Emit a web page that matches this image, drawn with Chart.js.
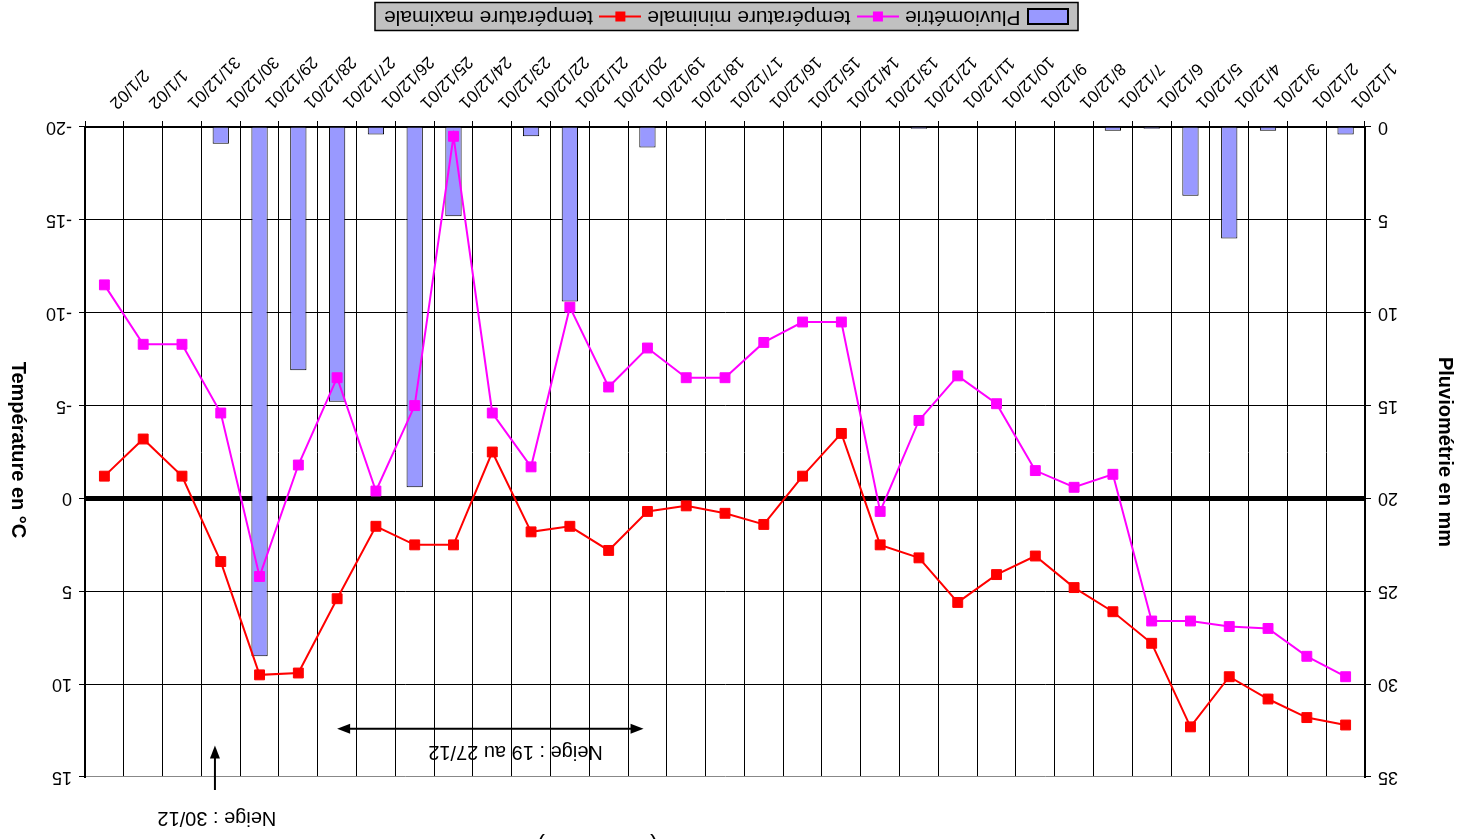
<!DOCTYPE html>
<html lang="fr">
<head>
<meta charset="utf-8">
<title>Températures et pluviométrie - décembre 2001</title>
<script src="https://cdn.jsdelivr.net/npm/chart.js@4.4.1/dist/chart.umd.min.js"></script>
<style>
  html, body { margin: 0; padding: 0; background: #fff; overflow: hidden; }
  /* le graphique d'origine est photographié à l'envers */
  #wrap { width: 1459px; height: 839px; position: relative; transform: rotate(180deg); }
</style>
</head>
<body>
<div id="wrap"><canvas id="meteoChart"></canvas></div>
<script>
// Données relevées jour par jour
const jours = ['1/12/01', '2/12/01', '3/12/01', '4/12/01', '5/12/01', '6/12/01', '7/12/01', '8/12/01',
  '9/12/01', '10/12/01', '11/12/01', '12/12/01', '13/12/01', '14/12/01', '15/12/01', '16/12/01',
  '17/12/01', '18/12/01', '19/12/01', '20/12/01', '21/12/01', '22/12/01', '23/12/01', '24/12/01',
  '25/12/01', '26/12/01', '27/12/01', '28/12/01', '29/12/01', '30/12/01', '31/12/01', '1/1/02', '2/1/02'];
const pluie = [0.4, 0, 0.2, 6.0, 3.7, 0.1, 0.2, 0, 0, 0, 0, 0.1, 0, 0, 0, 0,
  0, 0, 1.1, 0, 9.4, 0.5, 0, 4.8, 19.4, 0.4, 14.8, 13.1, 28.5, 0.9, 0, 0, 0];
const tempMin = [9.6, 8.5, 7.0, 6.9, 6.6, 6.6, -1.3, -0.6, -1.5, -5.1, -6.6, -4.2, 0.7, -9.5, -9.5, -8.4,
  -6.5, -6.5, -8.1, -6.0, -10.3, -1.7, -4.6, -19.5, -5.0, -0.4, -6.5, -1.8, 4.2, -4.6, -8.3, -8.3, -11.5];
const tempMax = [12.2, 11.8, 10.8, 9.6, 12.3, 7.8, 6.1, 4.8, 3.1, 4.1, 5.6, 3.2, 2.5, -3.5, -1.2, 1.4,
  0.8, 0.4, 0.7, 2.8, 1.5, 1.8, -2.5, 2.5, 2.5, 1.5, 5.4, 9.4, 9.5, 3.4, -1.2, -3.2, -1.2];
const pluieTicks = [0, 5, 10, 15, 20, 25, 30, 35];
const tempTicks = [-20, -15, -10, -5, 0, 5, 10, 15];

Chart.defaults.font.family = "'Liberation Sans', Arial, sans-serif";
Chart.defaults.color = '#000';

// Symboles de la légende
function symboleBarre() {
  const c = document.createElement('canvas');
  c.width = 42; c.height = 17;
  const g = c.getContext('2d');
  g.fillStyle = '#9999ff';
  g.fillRect(1, 1, 40, 15);
  g.strokeStyle = '#000';
  g.lineWidth = 2;
  g.strokeRect(1, 1, 40, 15);
  return c;
}

function symboleLigne(couleur) {
  const c = document.createElement('canvas');
  c.width = 42; c.height = 12;
  const g = c.getContext('2d');
  g.strokeStyle = couleur;
  g.lineWidth = 2;
  g.beginPath();
  g.moveTo(0, 6);
  g.lineTo(42, 6);
  g.stroke();
  g.fillStyle = couleur;
  g.fillRect(16, 1, 10, 10);
  return c;
}

const symboles = [symboleBarre(), symboleLigne('#ff00ff'), symboleLigne('#ff0000')];

function fleche(ctx, x1, y1, x2, y2) {
  const a = Math.atan2(y2 - y1, x2 - x1);
  const c = Math.cos(a), s = Math.sin(a);
  ctx.beginPath();
  ctx.moveTo(x2, y2);
  ctx.lineTo(x2 - 13 * c + 5 * s, y2 - 13 * s - 5 * c);
  ctx.lineTo(x2 - 13 * c - 5 * s, y2 - 13 * s + 5 * c);
  ctx.closePath();
  ctx.fill();
}

// Fond gris de la légende, annotations "Neige", titre de l'axe de droite
const decor = {
  id: 'decor',
  beforeDraw(chart) {
    const boxes = chart.legend.legendHitBoxes;
    if (!boxes || !boxes.length) return;
    const first = boxes[0], last = boxes[boxes.length - 1];
    const x0 = first.left - 13;
    const x1 = last.left + last.width + 9;
    const yc = first.top + first.height / 2;
    const ctx = chart.ctx;
    ctx.save();
    ctx.fillStyle = '#c0c0c0';
    ctx.fillRect(x0, yc - 14, x1 - x0, 28);
    ctx.strokeStyle = '#000';
    ctx.lineWidth = 1.5;
    ctx.strokeRect(x0, yc - 14, x1 - x0, 28);
    ctx.restore();
  },
  afterDraw(chart) {
    const ctx = chart.ctx;
    const x = chart.scales.x;
    const t = chart.scales.yTemp;
    const area = chart.chartArea;
    ctx.save();
    ctx.strokeStyle = '#000';
    ctx.fillStyle = '#000';
    ctx.lineWidth = 2;

    // Neige du 19 au 27/12
    const xa = x.getPixelForValue(18.1);
    const xb = x.getPixelForValue(26);
    const ya = t.getPixelForValue(12.4);
    ctx.beginPath();
    ctx.moveTo(xa + 8, ya);
    ctx.lineTo(xb - 8, ya);
    ctx.stroke();
    fleche(ctx, xb, ya, xa, ya);
    fleche(ctx, xa, ya, xb, ya);
    ctx.font = "20px 'Liberation Sans', Arial, sans-serif";
    ctx.textAlign = 'center';
    ctx.textBaseline = 'middle';
    ctx.fillText('Neige : 19 au 27/12', x.getPixelForValue(21.4), t.getPixelForValue(13.65));

    // Neige le 30/12
    const xn = x.getPixelForValue(29.15);
    const yTop = area.top - 13;
    const yBas = t.getPixelForValue(13.3);
    ctx.beginPath();
    ctx.moveTo(xn, yTop);
    ctx.lineTo(xn, yBas - 8);
    ctx.stroke();
    fleche(ctx, xn, yTop, xn, yBas);
    ctx.fillText('Neige : 30/12', x.getPixelForValue(29.1), area.top - 41);

    // Titre de l'axe des températures
    ctx.font = "bold 20px 'Liberation Sans', Arial, sans-serif";
    ctx.translate(t.right - 18, (t.top + t.bottom) / 2 + 2);
    ctx.rotate(-Math.PI / 2);
    ctx.fillText('Température en °C', 0, 0);
    ctx.restore();

    // Titre coupé en haut de l'image : seules les parenthèses dépassent
    ctx.save();
    ctx.font = "24px 'Liberation Sans', Arial, sans-serif";
    ctx.textAlign = 'center';
    ctx.textBaseline = 'alphabetic';
    ctx.fillStyle = '#000';
    ctx.fillText('(', 805, 0);
    ctx.fillText(')', 918, 0);
    ctx.restore();
  }
};

const ctx = document.getElementById('meteoChart').getContext('2d');
new Chart(ctx, {
  type: 'bar',
  data: {
    labels: jours,
    datasets: [
      {
        type: 'bar',
        label: 'Pluviométrie',
        data: pluie,
        yAxisID: 'yPluie',
        backgroundColor: '#9999ff',
        borderColor: '#000',
        borderWidth: 1,
        barPercentage: 0.42,
        categoryPercentage: 1,
        order: 3
      },
      {
        type: 'line',
        label: 'température minimale',
        data: tempMin,
        yAxisID: 'yTemp',
        borderColor: '#ff00ff',
        backgroundColor: '#ff00ff',
        borderWidth: 2,
        pointStyle: 'rect',
        pointRadius: 7,
        pointBorderWidth: 1,
        tension: 0,
        order: 2
      },
      {
        type: 'line',
        label: 'température maximale',
        data: tempMax,
        yAxisID: 'yTemp',
        borderColor: '#ff0000',
        backgroundColor: '#ff0000',
        borderWidth: 2,
        pointStyle: 'rect',
        pointRadius: 7,
        pointBorderWidth: 1,
        tension: 0,
        order: 1
      }
    ]
  },
  options: {
    responsive: true,
    maintainAspectRatio: false,
    animation: false,
    events: [],
    layout: { padding: { top: 62, left: 10, right: 0, bottom: -4 } },
    plugins: {
      tooltip: { enabled: false },
      legend: {
        position: 'bottom',
        labels: {
          usePointStyle: true,
          pointStyleWidth: 34,
          padding: 10,
          font: { size: 21 },
          color: '#000',
          generateLabels: chart => chart.data.datasets.map((ds, i) => ({
            text: ds.label,
            pointStyle: symboles[i],
            datasetIndex: i,
            hidden: false,
            lineWidth: 0,
            fontColor: '#000'
          }))
        }
      }
    },
    scales: {
      x: {
        offset: true,
        grid: { offset: true, color: '#000', lineWidth: 1, tickLength: 6, tickColor: '#000' },
        border: { color: '#000', width: 2 },
        ticks: {
          autoSkip: false,
          minRotation: 45,
          maxRotation: 45,
          labelOffset: -8,
          font: { size: 17 },
          color: '#000',
          padding: 8
        },
        afterFit: s => { s.height = 90; }
      },
      yPluie: {
        position: 'left',
        min: 0,
        max: 35,
        afterBuildTicks: s => { s.ticks = pluieTicks.map(v => ({ value: v })); },
        grid: { drawOnChartArea: false, tickLength: 6, tickColor: '#000' },
        border: { color: '#000', width: 2 },
        ticks: { font: { size: 18 }, color: '#000', padding: 7 },
        title: {
          display: true,
          text: 'Pluviométrie en mm',
          font: { size: 20, weight: 'bold' },
          color: '#000',
          padding: { top: -8, bottom: 0 }
        },
        afterFit: s => { s.width = 84; }
      },
      yTemp: {
        position: 'right',
        min: -20,
        max: 15,
        afterBuildTicks: s => { s.ticks = tempTicks.map(v => ({ value: v })); },
        grid: {
          color: c => (c.tick && c.tick.value === 15 ? '#888' : '#000'),
          lineWidth: c => (c.tick && c.tick.value === 0 ? 5 : 1),
          tickLength: 6,
          tickColor: '#000',
          tickWidth: 1
        },
        border: { color: '#000', width: 2 },
        ticks: { font: { size: 18 }, color: '#000', padding: 7 },
        afterFit: s => { s.width = 85; }
      }
    }
  },
  plugins: [decor]
});
</script>
</body>
</html>
